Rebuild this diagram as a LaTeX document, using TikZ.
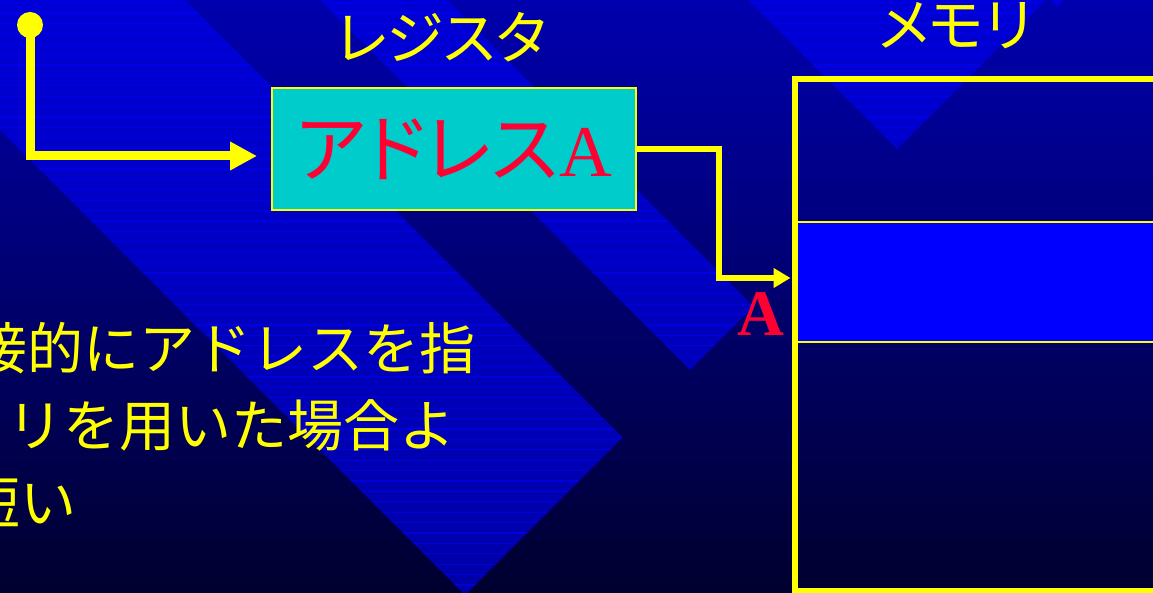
\documentclass[tikz,border=0pt]{standalone}
\usepackage{fontspec}
\newfontfamily\jp{Noto Sans CJK JP}
\newfontfamily\jpp{Noto Sans CJK JP}[RawFeature=+palt]
\newfontfamily\tnr{Liberation Serif}
\usetikzlibrary{arrows.meta}
\definecolor{ylw}{RGB}{255,255,0}
\definecolor{txtred}{RGB}{255,0,51}
\definecolor{cyanbox}{RGB}{0,204,204}
\definecolor{bgtop}{RGB}{0,0,174}
\definecolor{bgbot}{RGB}{0,0,46}
\definecolor{brtop}{RGB}{0,0,214}
\definecolor{brbot}{RGB}{0,0,168}
\definecolor{cellblue}{RGB}{0,0,255}
\begin{document}
\begin{tikzpicture}[x=1pt,y=-1pt,
  conna/.style={draw=ylw,line width=9pt,-{Triangle[length=27pt,width=27pt]}},
  connb/.style={draw=ylw,line width=5.5pt,-{Triangle[length=17pt,width=19pt]}},
  lbl/.style={text=ylw,font=\jpp\fontsize{58}{60}\selectfont,inner sep=0pt},
  body/.style={text=ylw,font=\jp\fontsize{56}{60}\selectfont,inner sep=0pt},
  regbox/.style={draw=ylw,line width=2pt,fill=cyanbox,minimum width=364pt,minimum height=122pt,inner sep=0pt,text=txtred},
  memcell/.style={draw=ylw,line width=2pt,fill=cellblue,minimum width=366pt,minimum height=120pt,inner sep=0pt},
  memframe/.style={draw=ylw,line width=6pt,minimum width=366pt,minimum height=512pt,inner sep=0pt},
  scanline/.style={fill=blue,opacity=0.55}]
\useasboundingbox (0,0) rectangle (1153,593);
\clip (0,0) rectangle (1153,593);
% background gradient
\shade[top color=bgtop,bottom color=bgbot] (0,0) rectangle (1153,593);
% lighter diagonal bands
\begin{scope}
  \clip (0,0) -- (185,0) -- (622.5,437.5) -- (465,595) -- (0,130) -- cycle
        (320,0) -- (447,0) -- (753.5,306.5) -- (690,370) -- cycle
        (748,0) -- (1046,0) -- (897,149) -- cycle
        (1050,0) -- (1064,0) -- (1057,7) -- cycle;
  \shade[top color=brtop,bottom color=brbot] (0,0) rectangle (1153,593);
  \foreach \k in {0,...,59} \fill[scanline] (0,{\k*10.4+2}) rectangle (1153,{\k*10.4+3.2});
\end{scope}
% register
\node[lbl,anchor=base] (lreg) at (441,60) {レジスタ};
\node[regbox] (reg) at (454,149) {{\jpp\fontsize{75}{80}\selectfont アドレス}{\tnr\fontsize{73}{80}\selectfont A}};
% memory
\node[memcell] (m2) at (977.5,282) {};
\node[memframe] (mem) at (977.5,335) {};
\node[lbl,anchor=base] (lmem) at (955,47) {メモリ};
\node[text=txtred,font=\tnr\bfseries\fontsize{65}{70}\selectfont,inner sep=0pt] (la) at (761,314) {A};
% connectors
\node[circle,fill=ylw,minimum size=26pt,inner sep=0pt] (dot) at (30,25) {};
\coordinate (in1) at (257,156);
\draw[conna] (dot.center) |- (in1);
\draw[connb,shorten >=3pt] (reg.east) -- ++(82,0) |- ([yshift=4pt]m2.west);
% text
\node[body,anchor=base east] (t1) at (476,369) {接的にアドレスを指};
\node[body,anchor=base east] (t2) at (456,446) {リを用いた場合よ};
\node[body,anchor=base east] (t3) at (77,523) {短い};
\end{tikzpicture}
\end{document}
